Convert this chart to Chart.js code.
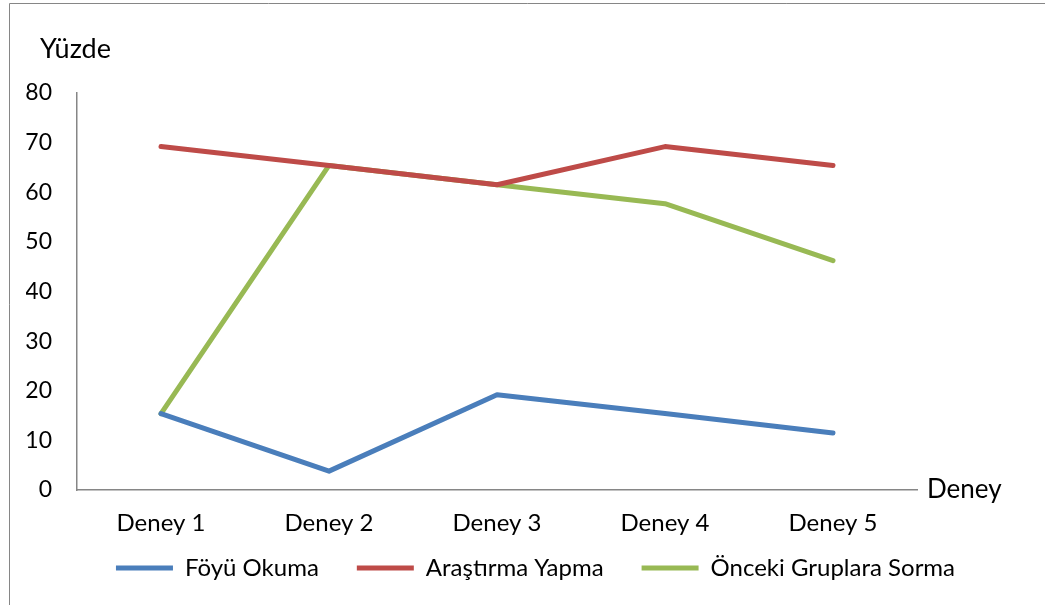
<!DOCTYPE html>
<html>
<head>
<meta charset="utf-8">
<script src="https://cdn.jsdelivr.net/npm/chart.js@4/dist/chart.umd.min.js"></script>
<style>
html,body{margin:0;padding:0;background:#fff;}
#wrap{width:1045px;height:605px;position:relative;}
</style>
</head>
<body>
<div id="wrap"><canvas id="c" width="1045" height="605"></canvas></div>
<script>
const categories = ["Deney 1", "Deney 2", "Deney 3", "Deney 4", "Deney 5"];
const foyuOkuma = [15.4, 3.8, 19.2, 15.4, 11.5];
const arastirmaYapma = [69.2, 65.4, 61.5, 69.2, 65.4];
const oncekiGruplaraSorma = [15.4, 65.4, 61.5, 57.7, 46.2];
const seriesNames = ["Föyü Okuma", "Araştırma Yapma", "Önceki Gruplara Sorma"];
const yTitle = "Yüzde";
const xTitle = "Deney";

const FONT = "Lato";
const AXIS = "#868686";

const extras = {
  id: "extras",
  beforeDraw(chart) {
    const ctx = chart.ctx;
    ctx.save();
    ctx.strokeStyle = AXIS;
    ctx.lineWidth = 1;
    ctx.beginPath();
    ctx.moveTo(9.5, 605);
    ctx.lineTo(9.5, 3.5);
    ctx.lineTo(1045, 3.5);
    ctx.stroke();
    ctx.restore();
  },
  afterDraw(chart) {
    const ctx = chart.ctx;
    const a = chart.chartArea;
    ctx.save();
    ctx.fillStyle = "#000";
    ctx.textBaseline = "middle";
    ctx.textAlign = "left";
    ctx.font = "27px " + FONT;
    ctx.fillText(yTitle, 40, 49);
    ctx.font = "26px " + FONT;
    ctx.fillText(xTitle, a.right + 10, a.bottom);
    ctx.restore();
  }
};

new Chart(document.getElementById("c"), {
  type: "line",
  data: {
    labels: categories,
    datasets: [
      {label: seriesNames[0], data: foyuOkuma, borderColor: "#4A7EBB", backgroundColor: "#4A7EBB"},
      {label: seriesNames[1], data: arastirmaYapma, borderColor: "#BE4B48", backgroundColor: "#BE4B48"},
      {label: seriesNames[2], data: oncekiGruplaraSorma, borderColor: "#98B954", backgroundColor: "#98B954"}
    ].map(d => Object.assign(d, {borderWidth: 5, pointRadius: 0, borderCapStyle: "round", borderJoinStyle: "round", tension: 0, fill: false}))
  },
  options: {
    responsive: false,
    animation: false,
    events: [],
    layout: {padding: {left: 26, right: 0, top: 93, bottom: 15}},
    plugins: {
      legend: {
        position: "bottom",
        title: {display: true, text: "", font: {size: 10}, padding: {top: -34, bottom: 0}},
        labels: {
          usePointStyle: true,
          pointStyle: "line",
          pointStyleWidth: 57,
          boxHeight: 5,
          padding: 38,
          color: "#000",
          font: {family: FONT, size: 24}
        }
      },
      tooltip: {enabled: false}
    },
    scales: {
      x: {
        offset: true,
        grid: {display: false, drawTicks: false},
        border: {display: true, color: AXIS, width: 1.5},
        ticks: {color: "#000", font: {family: FONT, size: 24}, padding: 19, maxRotation: 0},
        afterFit(s) { s.height = 50; }
      },
      y: {
        min: 0, max: 80,
        grid: {display: false, drawTicks: false},
        border: {display: true, color: AXIS, width: 1.5},
        ticks: {stepSize: 10, color: "#000", font: {family: FONT, size: 23}, padding: 25},
        afterFit(s) { s.width = 51; }
      },
      yr: {
        position: "right",
        display: true,
        grid: {display: false, drawTicks: false},
        border: {display: false},
        ticks: {display: false},
        afterFit(s) { s.width = 128; }
      }
    }
  },
  plugins: [extras]
});
</script>
</body>
</html>
